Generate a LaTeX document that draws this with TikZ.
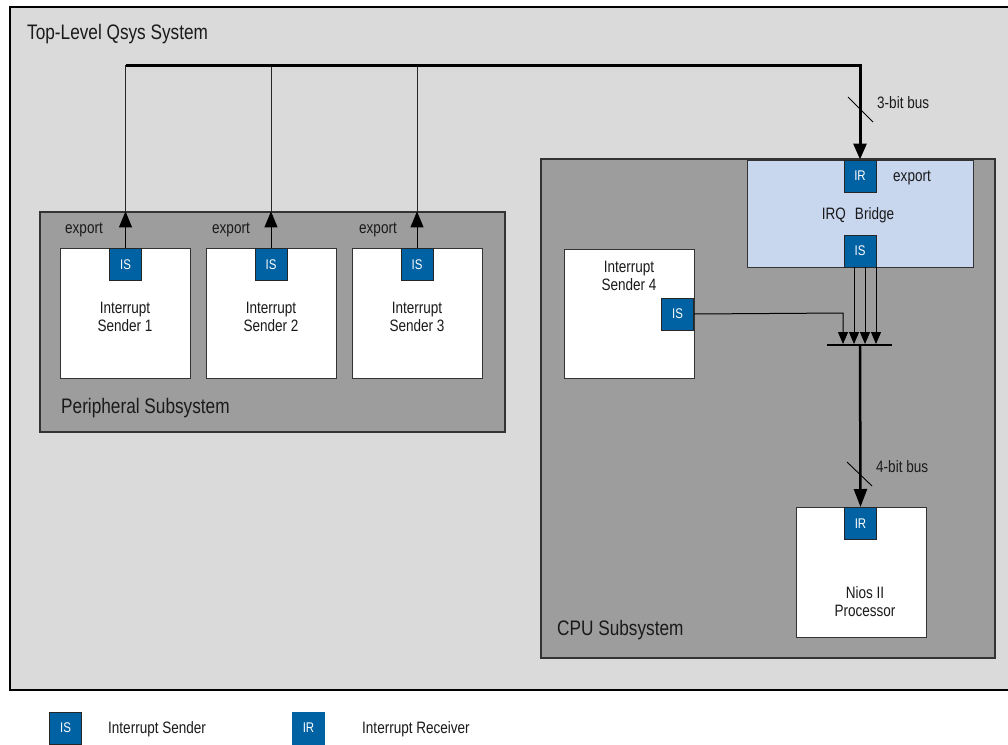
\documentclass[tikz,border=0pt]{standalone}
\usepackage{fontspec}
\setmainfont[FakeStretch=0.82]{Liberation Sans}
\usetikzlibrary{arrows.meta}
\definecolor{outerbg}{RGB}{218,218,218}
\definecolor{subbg}{RGB}{157,157,157}
\definecolor{isblue}{RGB}{0,97,163}
\definecolor{bridgebg}{RGB}{200,214,238}
\definecolor{txt}{RGB}{26,26,26}
\tikzset{
  container/.style={draw=black!80, line width=1.2pt, fill=subbg, inner sep=0pt},
  compbox/.style={draw=black!80, line width=1pt, fill=white, inner sep=0pt, minimum width=130pt, minimum height=130pt},
  port/.style={draw=black!85, line width=1pt, fill=isblue, text=white, inner sep=0pt, minimum size=32pt, font=\fontsize{14}{16}\selectfont},
  lbl/.style={inner sep=0pt, align=center, text=txt},
  big/.style={font=\fontsize{21}{24}\selectfont},
  conn/.style={draw=black, line width=1pt},
  busline/.style={draw=black, line width=3pt},
  uptip/.style={-{Triangle[width=13pt,length=16pt]}},
  bigtip/.style={-{Triangle[width=13pt,length=18pt]}},
  smalltip/.style={-{Triangle[width=10pt,length=12pt]}},
}
\begin{document}
\begin{tikzpicture}[x=1pt,y=-1pt,font=\fontsize{16.5}{19}\selectfont]
\useasboundingbox (0,0) rectangle (1008,744);
\fill[white] (0,0) rectangle (1008,744);
% top-level system
\node[draw=black, line width=2pt, fill=outerbg, inner sep=0pt, minimum width=1000pt, minimum height=683pt] (top) at (510,348.5) {};
\node[lbl, big, anchor=west] (title) at (27,34) {Top-Level Qsys System};
% subsystems
\node[container, minimum width=465pt, minimum height=220pt] (periph) at (272.5,322) {};
\node[container, minimum width=454pt, minimum height=499pt] (cpu) at (768,408.5) {};
\node[lbl, big, anchor=west] (periphlbl) at (61,408) {Peripheral Subsystem};
\node[lbl, big, anchor=west] (cpulbl) at (557,630) {CPU Subsystem};
% senders
\node[compbox] (s1) at (125,313) {};
\node[compbox] (s2) at (271,313) {};
\node[compbox] (s3) at (417,313) {};
\node[port] (s1is) at (125.5,264.5) {IS};
\node[port] (s2is) at (271,264.5) {IS};
\node[port] (s3is) at (417,264.5) {IS};
\node[lbl] (s1t) at (125,316.5) {Interrupt\\[-1pt]Sender 1};
\node[lbl] (s2t) at (271,316.5) {Interrupt\\[-1pt]Sender 2};
\node[lbl] (s3t) at (417,316.5) {Interrupt\\[-1pt]Sender 3};
\node[lbl] (e1) at (84,230) {export};
\node[lbl] (e2) at (231,230) {export};
\node[lbl] (e3) at (378,230) {export};
% bridge
\node[draw=black!80, line width=1pt, fill=bridgebg, inner sep=0pt, minimum width=226pt, minimum height=107pt] (bridge) at (860,213.5) {};
\node[port] (brir) at (860,176) {IR};
\node[port] (bris) at (860,251) {IS};
\node[lbl] (bre) at (912,178) {export};
\node[lbl] (brt) at (858,215) {IRQ\hspace{9pt}Bridge};
% sender 4
\node[compbox, minimum height=129pt] (s4) at (629,313.5) {};
\node[port] (s4is) at (677.5,314) {IS};
\node[lbl] (s4t) at (629,275.5) {Interrupt\\[-1pt]Sender 4};
% nios
\node[compbox] (nios) at (861,572) {};
\node[port] (niosir) at (860.5,523.5) {IR};
\node[lbl] (niost) at (865,601.5) {Nios II\\[-1pt]Processor};
% bus coordinates
\coordinate (bl) at (126,65);
\coordinate (br) at (860,65);
\coordinate (barl) at (827,345);
\coordinate (barr) at (892,345);
\coordinate (barc) at (860,345);
% export arrows
\draw[conn, uptip] (s1is.north) -- (s1is.north |- periph.north);
\draw[conn, uptip] (s2is.north) -- (s2is.north |- periph.north);
\draw[conn, uptip] (s3is.north) -- (s3is.north |- periph.north);
\draw[conn, draw=black!85] (s1is.north |- periph.north) -- (s1is.north |- bl);
\draw[conn, draw=black!85] (s2is.north |- periph.north) -- (s2is.north |- bl);
\draw[conn, draw=black!85] (s3is.north |- periph.north) -- (s3is.north |- bl);
\draw[busline, uptip] (bl) -- (br) -- (brir.north);
\draw[conn, line width=0.9pt] (848,97) -- (873,122);
\node[lbl, anchor=west] (b3) at (877,103) {3-bit bus};
% merge
\draw[conn, line width=1.5pt] (barl) -- (barr);
\draw[conn, smalltip] (s4is.east) -- (843,313) -- (843,344);
\draw[conn, smalltip] (854,267) -- (854,344);
\draw[conn, smalltip] (865,267) -- (865,344);
\draw[conn, smalltip] (876,267) -- (876,344);
\draw[draw=black, line width=2.5pt, bigtip] (barc) -- (niosir.north);
\draw[conn, line width=0.9pt] (847,462) -- (872,486);
\node[lbl, anchor=west] (b4) at (876,467) {4-bit bus};
% legend
\node[port] (legis) at (65.5,728) {IS};
\node[port, draw=none, minimum size=33pt] (legir) at (308.5,728) {IR};
\node[lbl, anchor=west] (legist) at (108,729) {Interrupt Sender};
\node[lbl, anchor=west] (legirt) at (362,729) {Interrupt Receiver};
\end{tikzpicture}
\end{document}
